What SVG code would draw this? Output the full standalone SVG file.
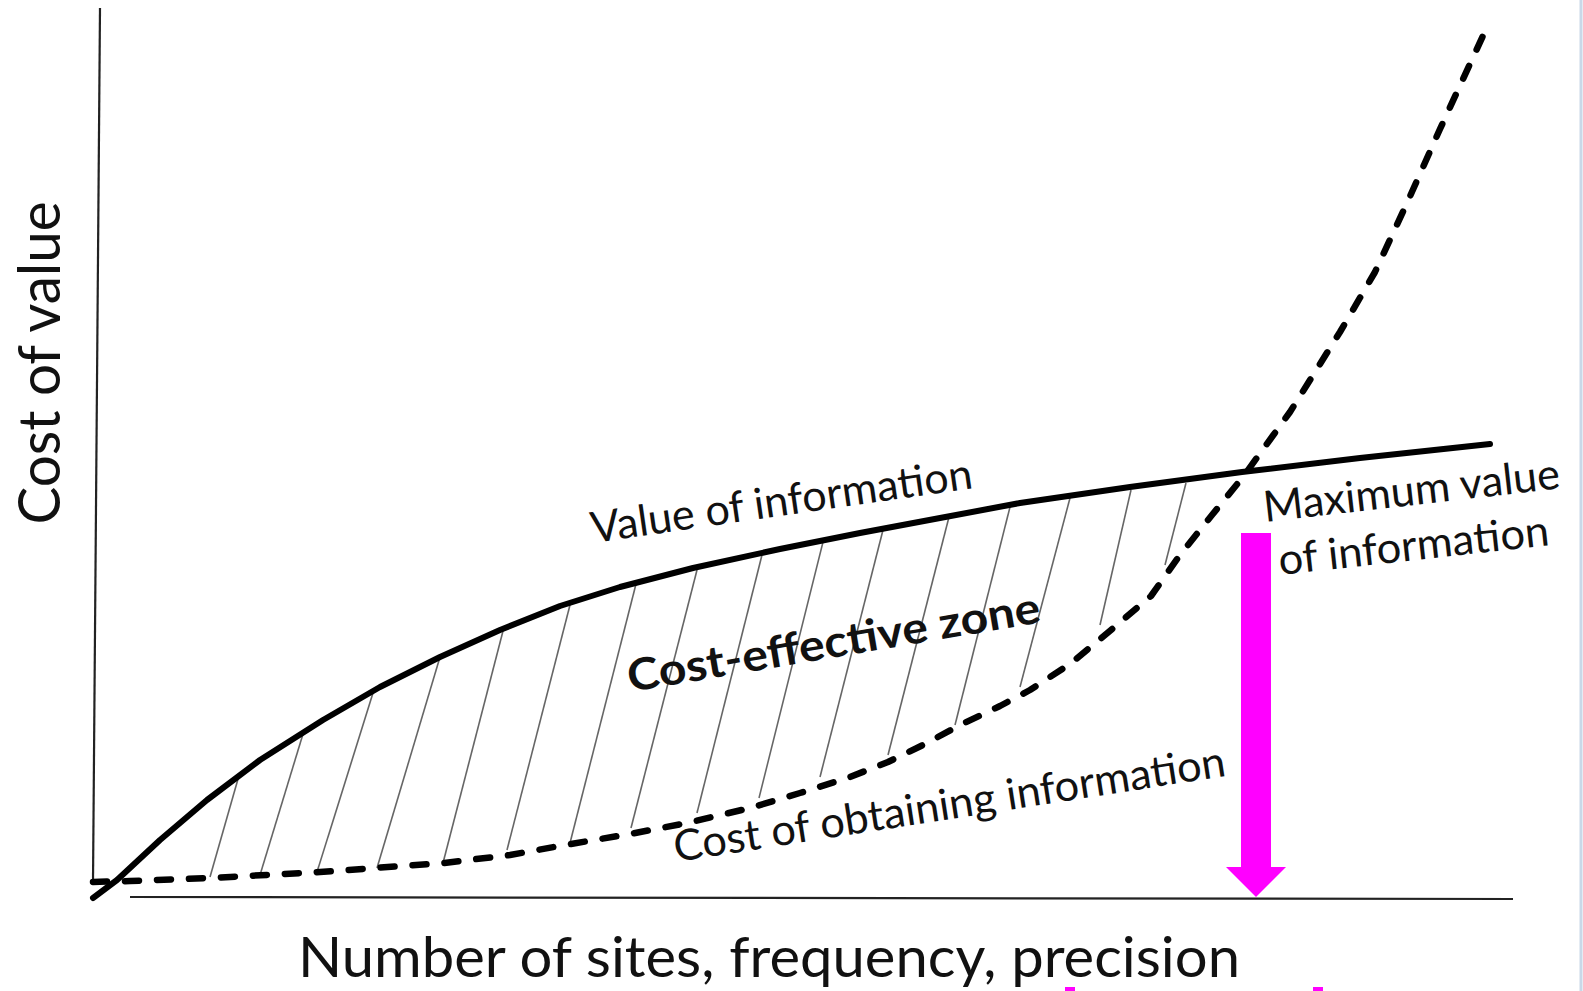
<svg xmlns="http://www.w3.org/2000/svg" width="1583" height="991" viewBox="0 0 1583 991">
<style>
.axis{fill:none;stroke:#222;stroke-width:2.2}
.value{fill:none;stroke:#000;stroke-width:6;stroke-linejoin:round;stroke-linecap:round}
.cost{fill:none;stroke:#000;stroke-width:6.5;stroke-dasharray:14 18;stroke-linecap:round;stroke-linejoin:round}
.hatch{stroke:#666;stroke-width:1.6}
.lbl{font-family:Lato,"Liberation Sans",sans-serif;fill:#111}
</style>
<rect width="1583" height="991" fill="#fff"/>
<line x1="1581" y1="0" x2="1581" y2="991" stroke="#c9d8e8" stroke-width="3"/>
<g id="axes">
<line class="axis" x1="100" y1="8" x2="93" y2="882"/>
<line class="axis" x1="130" y1="897" x2="1513" y2="899" stroke-width="2.6"/>
</g>
<g id="hatching">
<line class="hatch" x1="238" y1="779" x2="210" y2="877"/>
<line class="hatch" x1="303" y1="734" x2="260" y2="875"/>
<line class="hatch" x1="373" y1="693" x2="317" y2="872"/>
<line class="hatch" x1="440" y1="657" x2="377" y2="868"/>
<line class="hatch" x1="503" y1="631" x2="443" y2="863"/>
<line class="hatch" x1="570" y1="605" x2="507" y2="850"/>
<line class="hatch" x1="636" y1="584" x2="570" y2="843"/>
<line class="hatch" x1="697" y1="570" x2="631" y2="828"/>
<line class="hatch" x1="762" y1="555" x2="697" y2="813"/>
<line class="hatch" x1="823" y1="542" x2="759" y2="798"/>
<line class="hatch" x1="883" y1="530" x2="820" y2="777"/>
<line class="hatch" x1="949" y1="517" x2="888" y2="755"/>
<line class="hatch" x1="1010" y1="507" x2="955" y2="725"/>
<line class="hatch" x1="1070" y1="498" x2="1020" y2="687"/>
<line class="hatch" x1="1131" y1="490" x2="1100" y2="625"/>
<line class="hatch" x1="1186" y1="483" x2="1165" y2="565"/>
</g>
<g id="value-curve">
<polyline class="value" points="93,898 117,880 160,840 207,800 260,760 323,720 380,687 440,657 500,630 560,606 620,587 693,568 780,549 860,533 940,518 1020,503 1130,487 1242,472 1360,458 1490,444"/>
</g>
<g id="cost-curve">
<polyline class="cost" points="93,882 130,881 210,878 320,872 444,863 510,855 565,845 630,834 687,823 750,808 800,793 850,777 888,762 923,745 960,725 1000,706 1030,690 1070,664 1111,630 1151,596 1180,555 1212,515 1243,477 1290,412 1340,332 1375,272 1407,203 1440,129 1487,27"/>
</g>
<g id="arrow">
<rect x="1241" y="533" width="30" height="336" fill="#ff00ff"/>
<polygon points="1226,867 1286,867 1256,897" fill="#ff00ff"/>
<rect x="1065" y="987" width="10" height="4" fill="#ff00ff"/>
<rect x="1313" y="987" width="10" height="4" fill="#ff00ff"/>
</g>
<g id="labels">
<text class="lbl" font-size="58" text-anchor="middle" transform="translate(60,363) rotate(-90)" textLength="323" lengthAdjust="spacingAndGlyphs">Cost of value</text>
<text class="lbl" font-size="56" x="298" y="977" textLength="942" lengthAdjust="spacingAndGlyphs">Number of sites, frequency, precision</text>
<text class="lbl" font-size="43" transform="translate(593,543) rotate(-8.2)" textLength="385" lengthAdjust="spacingAndGlyphs">Value of information</text>
<text class="lbl" font-size="44" font-weight="bold" transform="translate(630,692) rotate(-9.6)" textLength="418" lengthAdjust="spacingAndGlyphs">Cost-effective zone</text>
<text class="lbl" font-size="43" transform="translate(676,862) rotate(-8.9)" textLength="558" lengthAdjust="spacingAndGlyphs">Cost of obtaining information</text>
<text class="lbl" font-size="43" transform="translate(1265,522) rotate(-6.5)" textLength="298" lengthAdjust="spacingAndGlyphs">Maximum value</text>
<text class="lbl" font-size="43" transform="translate(1280,575) rotate(-6.3)" textLength="272" lengthAdjust="spacingAndGlyphs">of information</text>
</g>
</svg>
